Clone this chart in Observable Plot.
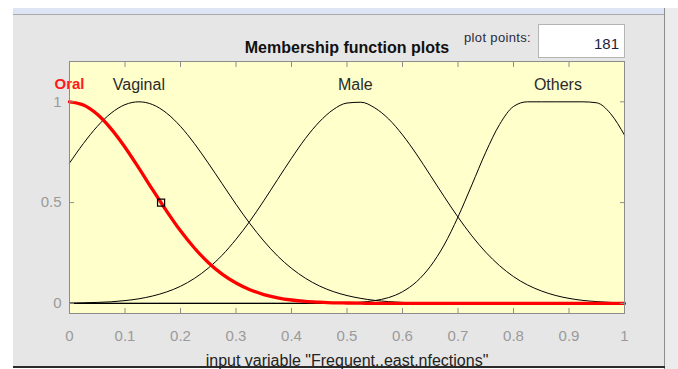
<!DOCTYPE html>
<html>
<head>
<meta charset="utf-8">
<script src="https://cdn.jsdelivr.net/npm/d3@7"></script>
<script src="https://cdn.jsdelivr.net/npm/@observablehq/plot@0.6"></script>
<style>
  html, body { margin: 0; padding: 0; background: #fff; overflow: hidden; }
  #win { position: relative; width: 678px; height: 369px; font-family: "Liberation Sans", Arial, sans-serif; }
  #win > div { position: absolute; }
  .band { left: 13px; top: 8px; width: 651px; height: 6px; background: #dde4f4; }
  .bandline { left: 13px; top: 14px; width: 651px; height: 1px; background: #a9a9a9; }
  .panel { left: 13px; top: 15px; width: 651px; height: 351px; background: #e6e6e6; }
  .edge { left: 664px; top: 8px; width: 1px; height: 361px; background: #8e8e8e; }
  .side { left: 665px; top: 8px; width: 13px; height: 361px; background: #ececec; }
  .bottom { left: 13px; top: 366px; width: 652px; height: 2px; background: #2b2b2b; }
  .title { left: 147px; width: 400px; top: 39.5px; text-align: center; font-size: 16px; line-height: 1; font-weight: bold; color: #111; }
  .pp { left: 464px; top: 31px; font-size: 13px; line-height: 1; letter-spacing: 0.35px; color: #2a2a3a; }
  .box { left: 538px; top: 24px; width: 85px; height: 32px; background: #fff; border: 1px solid #b4b4b4; }
  .box span { position: absolute; right: 5px; top: 11px; font-size: 15px; line-height: 1; color: #1c1c3c; }
  #chart { left: 0; top: 0; }
</style>
</head>
<body>
<div id="win">
  <div class="band"></div>
  <div class="bandline"></div>
  <div class="panel"></div>
  <div class="side"></div>
  <div class="edge"></div>
  <div class="bottom"></div>
  <div class="title">Membership function plots</div>
  <div class="pp">plot points:</div>
  <div class="box"><span id="npts"></span></div>
  <div id="chart"></div>
</div>
<script>
// Input range sample positions
const xs = [0, 0.025, 0.05, 0.075, 0.1, 0.125, 0.15, 0.175, 0.2, 0.225, 0.25, 0.275, 0.3, 0.325, 0.35, 0.375,
  0.4, 0.425, 0.45, 0.475, 0.5, 0.525, 0.55, 0.575, 0.6, 0.625, 0.65, 0.675, 0.7, 0.725, 0.75, 0.775,
  0.8, 0.825, 0.85, 0.875, 0.9, 0.925, 0.95, 0.975, 1];

// Membership degree of each fuzzy set at the positions above
const oral = [1, 0.984, 0.938, 0.866, 0.775, 0.671, 0.563, 0.458, 0.360, 0.275, 0.203, 0.145, 0.101, 0.068, 0.044, 0.028,
  0.017, 0.010, 0.006, 0.003, 0.002, 0.001, 0, 0, 0, 0, 0, 0, 0, 0, 0, 0,
  0, 0, 0, 0, 0, 0, 0, 0, 0];
const vaginal = [0.696, 0.793, 0.878, 0.944, 0.986, 1, 0.986, 0.944, 0.878, 0.793, 0.696, 0.594, 0.492, 0.396, 0.310, 0.235,
  0.174, 0.125, 0.087, 0.059, 0.039, 0.025, 0.015, 0.009, 0.005, 0.003, 0.002, 0.001, 0, 0, 0, 0,
  0, 0, 0, 0, 0, 0, 0, 0, 0];
const male = [0.001, 0.003, 0.005, 0.008, 0.014, 0.023, 0.037, 0.057, 0.085, 0.124, 0.175, 0.239, 0.318, 0.408, 0.509, 0.615,
  0.720, 0.818, 0.900, 0.961, 0.994, 0.998, 0.970, 0.915, 0.836, 0.741, 0.636, 0.530, 0.428, 0.335, 0.254, 0.187,
  0.133, 0.092, 0.062, 0.040, 0.025, 0.015, 0.009, 0.005, 0.003];
const others = [0, 0, 0, 0, 0, 0, 0, 0, 0, 0, 0, 0, 0, 0, 0, 0,
  0, 0, 0, 0.001, 0.002, 0.006, 0.014, 0.029, 0.058, 0.107, 0.183, 0.290, 0.429, 0.588, 0.750, 0.888,
  0.977, 1, 1, 1, 1, 1, 0.995, 0.941, 0.835];

// Set names and where each name sits along the input range
const setNames = ["Oral", "Vaginal", "Male", "Others"];
const setCenters = [0, 0.125, 0.515, 0.88];

// Handle on the selected set (Oral) at half membership
const handle = [{x: 0.165, y: 0.5}];

const xTicks = [0, 0.1, 0.2, 0.3, 0.4, 0.5, 0.6, 0.7, 0.8, 0.9, 1];
const yTicks = [0, 0.5, 1];
const xTitle = 'input variable "Frequent..east.nfections"';
const plotPoints = 181;

document.getElementById("npts").textContent = plotPoints;

const blackRows = [["Vaginal", vaginal], ["Male", male], ["Others", others]]
  .flatMap(([name, ys]) => xs.map((x, i) => ({name, x, y: ys[i]})));
const oralRows = xs.map((x, i) => ({x, y: oral[i]}));
const labelRows = setNames.map((name, i) => ({name, x: setCenters[i]}));

const fmt = d => String(d);
const axisGrey = "#8c8c8c";
const textGrey = "#9a9a9a";

const chart = Plot.plot({
  width: 678,
  height: 369,
  marginLeft: 69,
  marginRight: 54,
  marginTop: 61,
  marginBottom: 56,
  style: {background: "transparent", fontFamily: '"Liberation Sans", Arial, sans-serif', overflow: "visible"},
  x: {domain: [0, 1], label: null},
  y: {domain: [-0.05, 1.2], label: null},
  marks: [
    Plot.frame({fill: "#ffffcc"}),
    Plot.ruleY([0], {stroke: "#000", strokeWidth: 1.2}),
    Plot.line(blackRows, {x: "x", y: "y", z: "name", stroke: "#000", strokeWidth: 1, curve: "monotone-x"}),
    Plot.line(oralRows, {x: "x", y: "y", stroke: "#ff0000", strokeWidth: 3.3, curve: "monotone-x"}),
    Plot.dot(handle, {x: "x", y: "y", symbol: "square", r: 4, stroke: "#000", fill: "none", strokeWidth: 1.2}),
    Plot.text(labelRows.filter(d => d.name === "Oral"), {x: "x", text: "name", frameAnchor: "top", lineAnchor: "middle", dy: 23,
      fill: "#ff1a1a", fontSize: 15, fontWeight: "bold"}),
    Plot.text(labelRows.filter(d => d.name !== "Oral"), {x: "x", text: "name", frameAnchor: "top", lineAnchor: "middle", dy: 23,
      fill: "#2a2a2a", fontSize: 16}),
    Plot.axisX({ticks: xTicks, tickFormat: fmt, tickSize: -5, tickPadding: 22, stroke: axisGrey, fill: textGrey, fontSize: 15, label: null}),
    Plot.axisX({anchor: "top", ticks: xTicks, tickFormat: () => "", tickSize: -5, stroke: axisGrey, label: null}),
    Plot.axisY({ticks: yTicks, tickFormat: fmt, tickSize: -5, tickPadding: 13, stroke: axisGrey, fill: textGrey, fontSize: 15, label: null}),
    Plot.axisY({anchor: "right", ticks: yTicks, tickFormat: () => "", tickSize: -5, stroke: axisGrey, label: null}),
    Plot.frame({stroke: axisGrey}),
    Plot.text([xTitle], {frameAnchor: "bottom", dy: 52, lineAnchor: "bottom", fill: "#222", fontSize: 16})
  ]
});
document.getElementById("chart").appendChild(chart);
</script>
</body>
</html>
